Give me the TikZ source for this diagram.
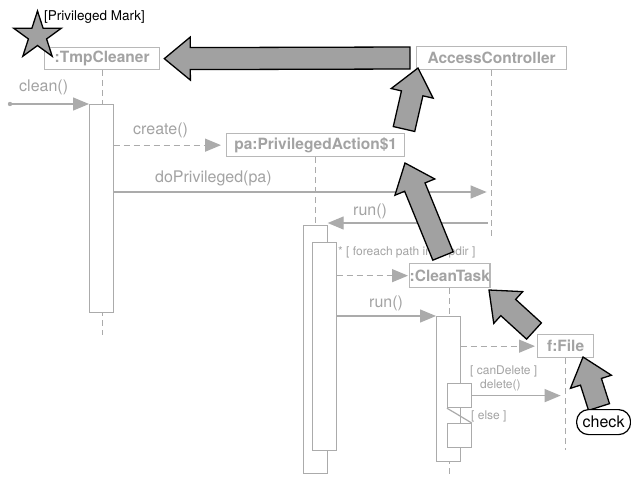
\documentclass[tikz,border=0pt]{standalone}
\usepackage{fontspec}
\setmainfont{TeX Gyre Heros}
\usetikzlibrary{calc,arrows.meta,shapes.geometric}

\definecolor{txtgray}{gray}{0.64}
\definecolor{linegray}{gray}{0.67}
\definecolor{boxgray}{gray}{0.72}
\definecolor{markfill}{gray}{0.63}

% thick outlined block arrow from #1 (tail) to #2 (tip)
\newcommand\blockarrow[2]{%
  \draw[markarrow] let \p1=($(#2)-(#1)$), \n1={atan2(\y1,\x1)},
      \n2={veclen(\x1,\y1)-26pt} in
    ($(#1)+(\n1+90:11pt)$) -- ($(#1)+(\n1:\n2)+(\n1+90:11pt)$)
    -- ($(#1)+(\n1:\n2)+(\n1+90:21.5pt)$) -- (#2)
    -- ($(#1)+(\n1:\n2)+(\n1-90:21.5pt)$) -- ($(#1)+(\n1:\n2)+(\n1-90:11pt)$)
    -- ($(#1)+(\n1-90:11pt)$) -- cycle;}

\begin{document}
\begin{tikzpicture}[x=1pt,y=1pt,
  obj/.style={draw=boxgray,line width=1.3pt,fill=white,text=txtgray,
    font=\fontsize{15.5}{18}\selectfont\bfseries,inner sep=0pt,anchor=north west},
  act/.style={draw=linegray,line width=1.2pt,fill=white,inner sep=0pt,
    anchor=north west,minimum width=23.5pt},
  life/.style={draw=linegray,line width=1.2pt,dash pattern=on 6pt off 4pt},
  msg/.style={draw=linegray,line width=1.3pt,-{Triangle[length=16pt,width=13pt]}},
  ret/.style={msg,dash pattern=on 6pt off 4pt},
  lbl/.style={text=txtgray,font=\fontsize{16}{18}\selectfont,inner sep=0pt,anchor=west},
  cond/.style={text=txtgray,font=\fontsize{12}{14}\selectfont,inner sep=0pt,anchor=west},
  markarrow/.style={draw=black,line width=1.3pt,fill=markfill,line join=miter},
]
\useasboundingbox[fill=white] (0,0) rectangle (631,-477);

% object heads
\node[obj,minimum width=115pt,minimum height=22pt] (tmp) at (44,-47) {:TmpCleaner};
\node[obj,minimum width=150pt,minimum height=23pt] (acc) at (416,-46) {AccessController};
\node[obj,minimum width=178pt,minimum height=23pt] (pa) at (226,-133) {pa:PrivilegedAction\$1};
\node[obj,minimum width=78pt,minimum height=24pt] (ct) at (409,-263) {:CleanTask};
\node[obj,minimum width=56pt,minimum height=23pt] (file) at (537,-334) {f:File};

% lifelines
\draw[life] (tmp.south) -- (tmp.south |- 0,-335);
\draw[life] (acc.south) -- (acc.south |- 0,-237);
\draw[life] (pa.south) -- (pa.south |- 0,-226);
\draw[life] (ct.south) -- (ct.south |- 0,-474);
\draw[life] (file.south) -- (file.south |- 0,-450);

% activations
\node[act,minimum height=208pt] (a1) at (89,-104) {};
\node[act,minimum height=248pt] (a2) at (303,-225) {};
\node[act,minimum height=208pt] (a2i) at (312,-242) {};
\node[act,minimum height=145pt] (a3) at (436,-316) {};
\node[act,minimum height=24pt] (n1) at (447,-383) {};
\node[act,minimum height=24pt] (n2) at (447,-423) {};
\draw[linegray,line width=1.2pt] (n1.south west) -- (n2.north east);

% messages
\coordinate (src) at (10,-104);
\fill[linegray] (src) circle (2.2pt);
\draw[msg] (src) -- (a1.north west);
\draw[ret] (a1.east |- pa.west) -- ([xshift=-5pt]pa.west);
\draw[msg] (a1.east |- 0,-192) -- ([xshift=-5pt]acc.south |- 0,-192);
\draw[msg] ([xshift=-4pt]acc.south |- 0,-223) -- (a2.east |- 0,-223);
\draw[ret] (a2i.east |- ct.west) -- ([xshift=-1pt]ct.west);
\draw[msg] (a2i.east |- a3.north west) -- (a3.north west);
\draw[ret] (a3.east |- file.west) -- ([xshift=-2pt]file.west);
\draw[msg] (n1.east) -- ([xshift=-5pt]file.south |- n1.east);

% labels
\node[lbl] (lclean) at (19,-87) {clean()};
\node[lbl] (lcreate) at (133,-130) {create()};
\node[lbl] (ldopriv) at (155,-178) {doPrivileged(pa)};
\node[lbl] (lrun1) at (353,-211) {run()};
\node[cond] (lloop) at (338,-252) {* [ foreach path in tmpdir ]};
\node[lbl] (lrun2) at (369,-303) {run()};
\node[cond] (lcan) at (470,-371) {[ canDelete ]};
\node[cond] (ldel) at (480,-385) {delete()};
\node[cond] (lelse) at (471,-416) {[ else ]};

% marking arrows
\coordinate (b1t) at (410,-58);  \coordinate (b1h) at ([xshift=4pt]tmp.east);
\coordinate (b2t) at (404,-129); \coordinate (b2h) at (418,-68);
\coordinate (b3t) at (443,-256); \coordinate (b3h) at (405,-163);
\coordinate (b4t) at (534,-331); \coordinate (b4h) at (489,-290);
\coordinate (b5t) at (599,-407); \coordinate (b5h) at (583,-357);
\blockarrow{b1t}{b1h}
\blockarrow{b2t}{b2h}
\blockarrow{b3t}{b3h}
\blockarrow{b4t}{b4h}
\blockarrow{b5t}{b5h}

% mark star and its label
\node[star,star points=5,star point ratio=2.618,minimum size=50pt,inner sep=0pt,
  draw=black,line width=1.3pt,fill=markfill,line join=miter] (mark) at (37.5,-36) {};
\node[inner sep=0pt,anchor=west,font=\fontsize{13.5}{15}\selectfont] (marklbl) at (44,-17) {[Privileged Mark]};

% check note
\node[draw=black,line width=1.2pt,fill=white,rounded corners=12pt,minimum width=54pt,
  minimum height=25pt,inner sep=0pt,font=\fontsize{16}{18}\selectfont,anchor=north west]
  (chk) at (576,-409) {check};
\end{tikzpicture}
\end{document}
